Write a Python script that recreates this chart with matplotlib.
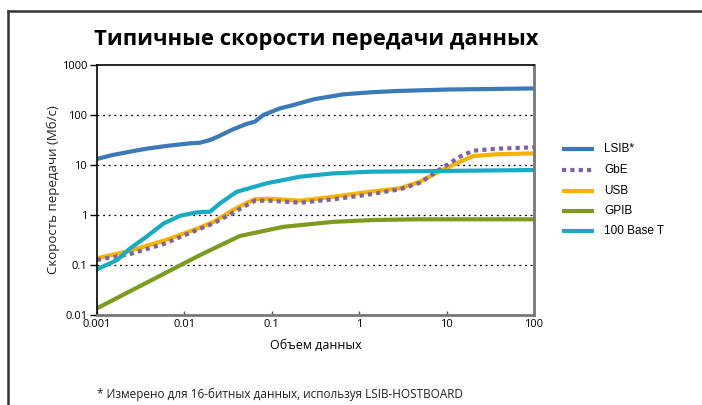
import numpy as np
import matplotlib.pyplot as plt
from matplotlib.lines import Line2D

# data (x: data volume, y: Mb/s)
lsib_x = [0.001, 0.0015, 0.0026, 0.0037, 0.0062, 0.0115, 0.0151, 0.0196, 0.025, 0.036, 0.051,
          0.064, 0.080, 0.123, 0.176, 0.3, 0.66, 1.33, 2.7, 10, 100]
lsib_y = [13.2, 15.8, 19, 21.2, 24, 27.1, 27.9, 31.6, 38, 51.7, 66,
          73.5, 100, 135, 158, 206, 259, 284, 302, 323, 340]

gbe_x = [0.001, 0.0024, 0.0058, 0.0139, 0.0216, 0.052, 0.064, 0.095, 0.21, 0.506, 1.33,
         2.93, 4.97, 8.4, 14.2, 20.2, 37.4, 100]
gbe_y = [0.126, 0.166, 0.263, 0.5, 0.68, 1.58, 1.93, 1.93, 1.76, 2.06, 2.59,
         3.27, 4.43, 8.2, 14.7, 19.3, 21.2, 22.6]

usb_x = [0.001, 0.0024, 0.0058, 0.0139, 0.0216, 0.036, 0.052, 0.064, 0.095, 0.21, 0.506, 1.33,
         2.93, 4.97, 8.4, 14.2, 20.2, 37.4, 100]
usb_y = [0.136, 0.193, 0.306, 0.53, 0.73, 1.26, 1.76, 2.06, 2.12, 1.93, 2.32, 2.92,
         3.42, 4.64, 7.6, 11.6, 15.1, 16.4, 17.1]

gpib_x = [0.001, 0.0151, 0.043, 0.135, 0.506, 1.33, 4.2, 100]
gpib_y = [0.0136, 0.158, 0.38, 0.58, 0.73, 0.79, 0.82, 0.82]

base_x = [0.001, 0.0017, 0.0024, 0.0037, 0.0058, 0.009, 0.0139, 0.018, 0.0196, 0.0255, 0.0398,
          0.087, 0.21, 0.506, 1.33, 4.2, 100]
base_y = [0.082, 0.126, 0.216, 0.37, 0.68, 0.97, 1.13, 1.16, 1.16, 1.71, 2.92,
          4.3, 5.84, 6.8, 7.35, 7.5, 7.94]

x_ticks = [0.001, 0.01, 0.1, 1, 10, 100]
x_labels = ['0.001', '0.01', '0.1', '1', '10', '100']
y_ticks = [0.01, 0.1, 1, 10, 100, 1000]
y_labels = ['0.01', '0.1', '1', '10', '100', '1000']

font = 'Open Sans'

fig = plt.figure(figsize=(7.02, 4.05), dpi=100)
ax = fig.add_axes([97/702, 1-315/405, (534-97)/702, (315-65)/405])

lw = 3.0
kw = dict(lw=lw, solid_capstyle='butt', solid_joinstyle='round')
ax.plot(lsib_x, lsib_y, color='#3b79b9', **kw)
ax.plot(usb_x, usb_y, color='#f6b300', **kw)
ax.plot(gbe_x, gbe_y, color='#7e62a8', lw=lw, ls=(0, (1, 1)))
ax.plot(gpib_x, gpib_y, color='#7e9b20', **kw)
ax.plot(base_x, base_y, color='#17acc3', **kw)

ax.set_xscale('log')
ax.set_yscale('log')
ax.set_xlim(0.001, 100)
ax.set_ylim(0.01, 1000)
ax.set_xticks(x_ticks)
ax.set_xticklabels(x_labels, fontsize=8, family=font)
ax.set_yticks(y_ticks)
ax.set_yticklabels(y_labels, fontsize=8, family=font)
ax.minorticks_off()
ax.tick_params(axis='y', direction='out', length=5, width=1, pad=2)
ax.tick_params(axis='x', direction='in', length=3, width=1, color='#555555', pad=3)

for v in [0.1, 1, 10, 100]:
    ax.axhline(v, color='black', lw=0.9, ls=(0, (1.5, 3)), zorder=0)

ax.spines['top'].set_color('black')
ax.spines['left'].set_color('black')
ax.spines['right'].set_color('#777777')
ax.spines['bottom'].set_color('#777777')
for s in ax.spines.values():
    s.set_linewidth(1.2)
ax.spines['right'].set_linewidth(2)
ax.spines['bottom'].set_linewidth(2)

ax.set_xlabel('Объем данных', fontsize=9, family=font, labelpad=6)
ax.set_ylabel('Скорость передачи (Мб/с)', fontsize=9.5, family=font, color='#222222', labelpad=1)

fig.text(316/702, 1-40/405, 'Типичные скорости передачи данных', ha='center', va='center',
         fontsize=15.8, fontweight='bold', family=font)
fig.text(97/702, 1-394/405, '* Измерено для 16-битных данных, используя LSIB-HOSTBOARD',
         ha='left', va='center', fontsize=8.5, family=font, color='#222222')

# legend drawn by hand to match the layout
leg_names = ['LSIB*', 'GbE', 'USB', 'GPIB', '100 Base T']
leg_colors = ['#3b79b9', '#7e62a8', '#f6b300', '#7e9b20', '#17acc3']
leg_rows = [149, 170, 191, 211, 231]
for name, c, yy in zip(leg_names, leg_colors, leg_rows):
    yf = 1 - yy/405
    ls = (0, (1, 1)) if name == 'GbE' else '-'
    fig.add_artist(Line2D([562/702, 594/702], [yf, yf], color=c, lw=lw, ls=ls,
                          solid_capstyle='butt'))
    fig.text(604/702, yf, name, ha='left', va='center', fontsize=8.5,
             family='Liberation Sans')

# outer frame (top and left edges)
fig.add_artist(Line2D([8/702, 1], [1-11/405, 1-11/405], color='#333333', lw=1.8))
fig.add_artist(Line2D([8/702, 8/702], [0, 1-11/405], color='#333333', lw=1.8))

fig.savefig('out.png', dpi=100)
